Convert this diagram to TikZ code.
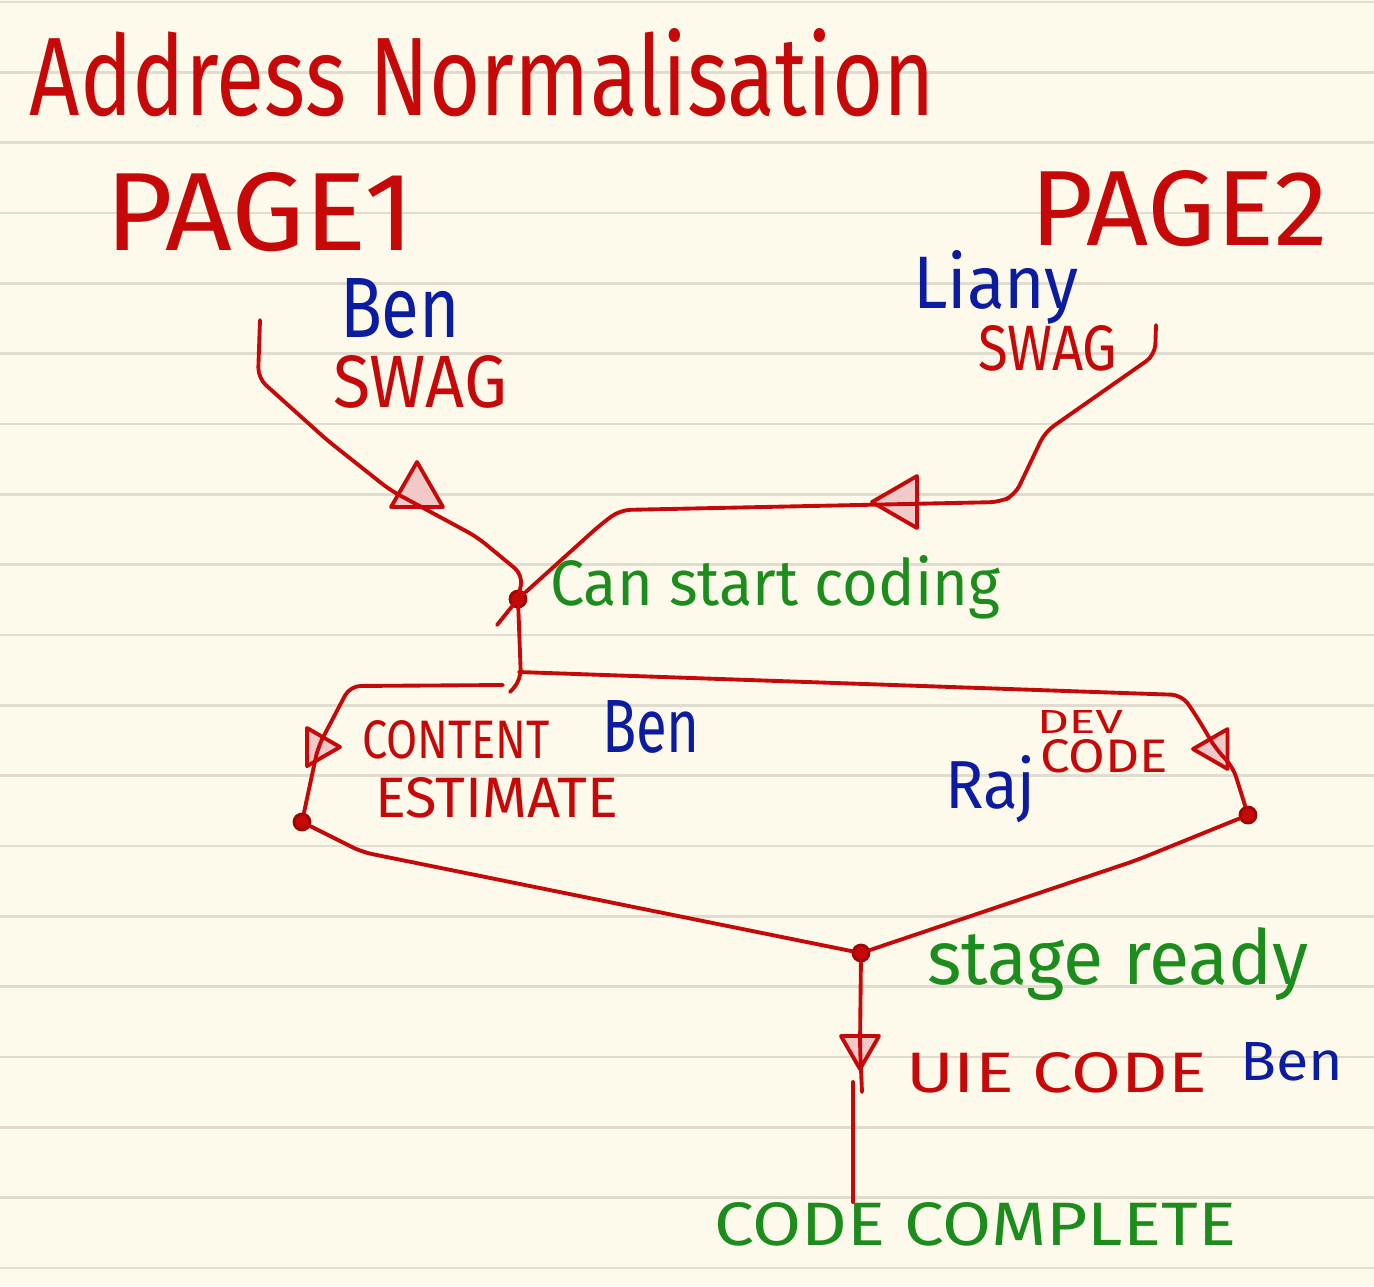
\documentclass[tikz,border=0pt]{standalone}
\usepackage{fontspec}
\setmainfont{Fira Sans}
\usepackage{tikz}
\usetikzlibrary{shapes.geometric, calc}
\definecolor{Paper}{RGB}{253, 250, 236}
\definecolor{Rule}{RGB}{224, 221, 208}
\definecolor{InkRed}{RGB}{198, 8, 8}
\definecolor{InkGreen}{RGB}{28, 140, 28}
\definecolor{InkBlue}{RGB}{12, 28, 160}

\begin{document}
\begin{tikzpicture}[
  rule/.style={draw=Rule, line width=0.8pt},
  ink/.style={draw=InkRed, line width=1.1pt, line cap=round, line join=round, rounded corners=3pt},
  word/.style={anchor=base west, inner sep=0pt, outer sep=0pt},
  task/.style={word, text=InkRed},
  who/.style={word, text=InkBlue},
  gate/.style={word, text=InkGreen},
  dot/.style={circle, draw=InkRed!80!black, fill=InkRed, line width=0.8pt,
    minimum size=0.16cm, inner sep=0pt},
  tri/.style={regular polygon, regular polygon sides=3, draw=InkRed, fill=InkRed!22,
    line width=1.1pt, line join=round, minimum size=0.6cm, inner sep=0pt}
]
  \useasboundingbox (0,0) rectangle (13.74,-12.86);
  \fill[Paper] (0,0) rectangle (13.74,-12.86);
  \foreach \k in {0,...,18}
    \draw[rule] (0,{-0.02-0.7033*\k}) -- (13.74,{-0.02-0.7033*\k});

  \node[task] (title)  at (0.30,-1.15) {\resizebox{9.05cm}{0.87cm}{Address Normalisation}};
  \node[task] (page1)  at (1.05,-2.50) {\resizebox{3.10cm}{0.78cm}{PAGE1}};
  \node[task] (page2)  at (10.30,-2.45) {\resizebox{2.98cm}{0.75cm}{PAGE2}};
  \node[who]  (ben1)   at (3.40,-3.37) {\resizebox{1.20cm}{0.59cm}{Ben}};
  \node[task] (swag1)  at (3.33,-4.07) {\resizebox{1.74cm}{0.52cm}{SWAG}};
  \node[who]  (liany)  at (9.13,-3.08) {\resizebox{1.66cm}{0.58cm}{Liany}};
  \node[task] (swag2)  at (9.78,-3.70) {\resizebox{1.39cm}{0.45cm}{SWAG}};
  \node[gate] (cango)  at (5.50,-6.05) {\resizebox{4.50cm}{0.50cm}{Can start coding}};
  \node[task] (content)  at (3.62,-7.58) {\resizebox{1.88cm}{0.38cm}{CONTENT}};
  \node[task] (estimate) at (3.75,-8.17) {\resizebox{2.43cm}{0.40cm}{ESTIMATE}};
  \node[who]  (ben2)   at (6.02,-7.52) {\resizebox{0.98cm}{0.52cm}{Ben}};
  \node[task] (dev)    at (10.37,-7.33) {\resizebox{0.86cm}{0.23cm}{DEV}};
  \node[task] (devcode) at (10.40,-7.72) {\resizebox{1.28cm}{0.33cm}{CODE}};
  \node[who]  (raj)    at (9.45,-8.08) {\resizebox{0.90cm}{0.53cm}{Raj}};
  \node[gate] (ready)  at (9.27,-9.84) {\resizebox{3.82cm}{0.57cm}{stage ready}};
  \node[task] (uie)    at (9.06,-10.92) {\resizebox{3.01cm}{0.40cm}{UIE CODE}};
  \node[who]  (ben3)   at (12.40,-10.80) {\resizebox{1.03cm}{0.38cm}{Ben}};
  \node[gate] (done)   at (7.14,-12.45) {\resizebox{5.22cm}{0.43cm}{CODE COMPLETE}};

  \node[tri] (t1) at (4.17,-4.92) {};
  \node[tri, shape border rotate=90] (t2) at (9.02,-5.02) {};
  \node[tri, shape border rotate=-90, minimum size=0.44cm] (t3) at (3.18,-7.47) {};
  \node[tri, shape border rotate=90, minimum size=0.46cm] (t4) at (12.16,-7.49) {};
  \node[tri, shape border rotate=180, minimum size=0.44cm] (t5) at (8.60,-10.47) {};

  \node[dot] (go)    at (5.18,-5.99) {};
  \node[dot] (ce)    at (3.02,-8.22) {};
  \node[dot] (ok)    at (12.48,-8.15) {};
  \node[dot] (stage) at (8.61,-9.53) {};

  \coordinate (p1) at (2.60,-3.20);
  \coordinate (p2) at (11.56,-3.25);
  \coordinate (split) at (5.19,-6.72);
  \coordinate (fork) at (5.03,-6.85);
  \coordinate (c5) at (8.53,-10.82);

  \draw[ink] (p1) -- (2.58,-3.78) -- (3.27,-4.40) -- (3.90,-4.90) -- (4.77,-5.37)
    -- (5.23,-5.75) -- (go.center);
  \draw[ink] (p2) -- (11.55,-3.55) -- (10.45,-4.32) -- (10.15,-4.95) -- (10.00,-5.02)
    -- (6.20,-5.10) -- (6.00,-5.25) -- (go.center) -- (4.97,-6.25);
  \draw[ink] (go.center) -- (5.21,-6.80) -- (5.10,-6.92);
  \draw[ink] (split) -- (11.82,-6.95) -- (11.97,-7.17) -- (t4.center) -- (12.33,-7.67) -- (ok);
  \draw[ink] (fork) -- (3.50,-6.86) -- (3.40,-7.05) -- (t3.center) -- (ce);
  \draw[ink] (ce) -- (3.62,-8.52) -- (stage);
  \draw[ink] (ok) -- (11.37,-8.60) -- (stage);
  \draw[ink] (stage) -- (t5.center) -- (8.62,-10.92);
  \draw[ink] (c5) -- (c5 |- done.north);
\end{tikzpicture}
\end{document}
